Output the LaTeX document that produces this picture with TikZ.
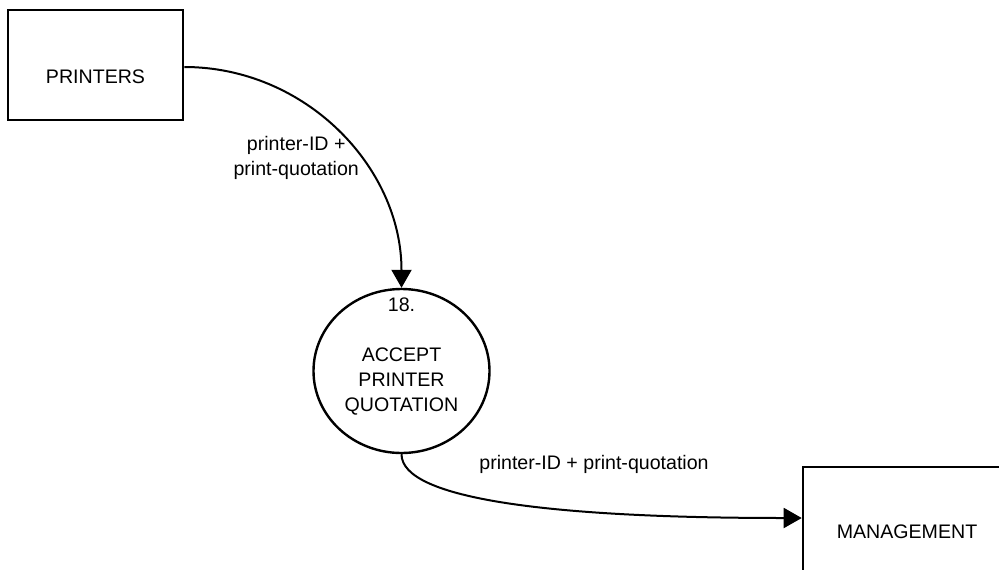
\documentclass[tikz,border=0pt]{standalone}
\usepackage{fontspec}
\setmainfont{Liberation Sans}
\usetikzlibrary{arrows.meta}
\usetikzlibrary{shapes.geometric}

\begin{document}
\begin{tikzpicture}[x=0.5pt, y=0.5pt, font=\fontsize{9.8}{12.5}\selectfont,
    main/.style = {draw, line width=1.3pt, rectangle, minimum width=87.5pt, minimum height=55pt},
    proc/.style = {draw, line width=1.2pt, ellipse, minimum width=88pt, minimum height=82pt, inner sep=0pt},
    flow/.style = {line width=1pt, -{Triangle[length=9pt, width=10pt]}},
    lbl/.style = {inner sep=0pt, align=center}]
    \useasboundingbox (0,0) rectangle (999,569);
    \clip (0,0) rectangle (999,569);
    \node[main, label={[yshift=-6pt]center:PRINTERS}] (1) at (95.5,504) {};
    \node[proc, label={[lbl, yshift=7pt]center:{18.\\[12.5pt]ACCEPT\\PRINTER\\QUOTATION}}] (2) at (401.5,198) {};
    \node[main, minimum width=104pt, minimum height=65pt] (3) at (907,37) {MANAGEMENT};
    \draw[flow] ([yshift=-1pt]1.east) to[out=0, in=90] node[lbl, pos=0.6, anchor=east] {printer-ID +\\print-quotation} (2.north);
    \draw[flow] (2.south) .. controls +(0,-45) and +(-250,0) .. ([yshift=7pt]3.west)
        node[lbl, pos=0.68, above=18.5pt] {printer-ID + print-quotation};
\end{tikzpicture}
\end{document}
